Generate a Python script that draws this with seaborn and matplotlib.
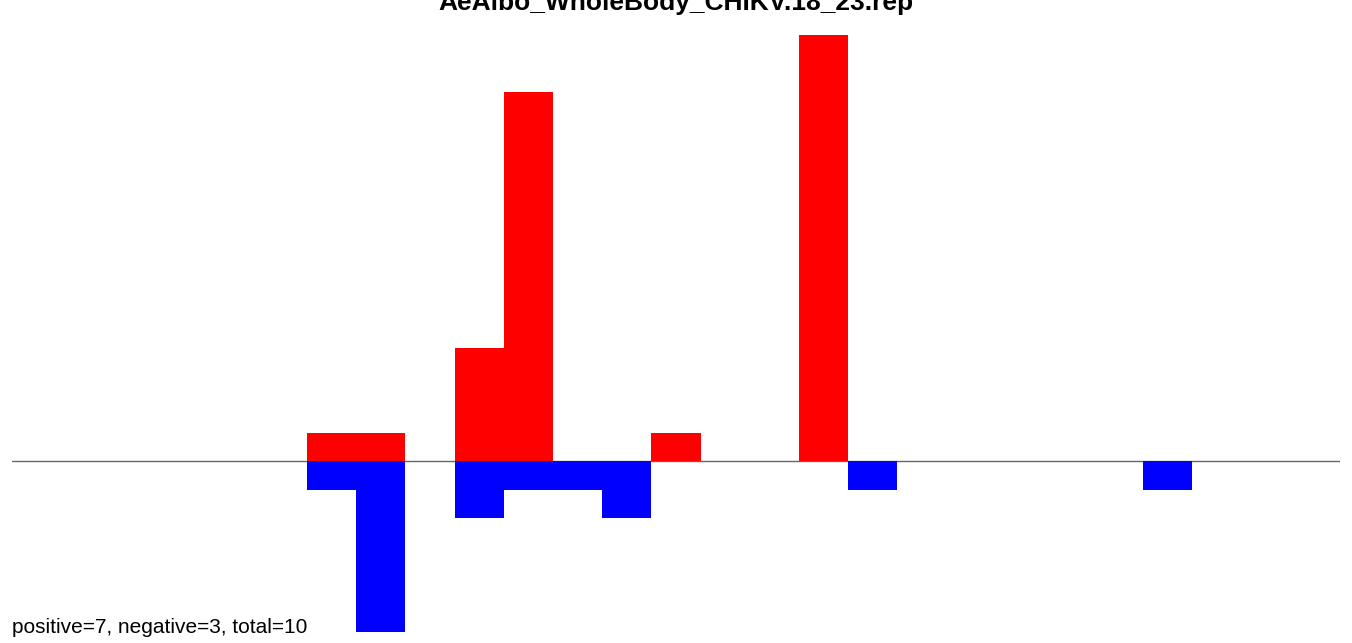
import matplotlib
matplotlib.use('Agg')
import matplotlib.pyplot as plt
import seaborn as sns
import pandas as pd

TITLE = 'AeAlbo_WholeBody_CHIKV.18_23.rep'
bins = list(range(27))
positive = [0, 0, 0, 0, 0, 0, 1, 1, 0, 4, 13, 0, 0, 1, 0, 0, 15, 0, 0, 0, 0, 0, 0, 0, 0, 0, 0]
negative = [0, 0, 0, 0, 0, 0, -1, -6, 0, -2, -1, -1, -2, 0, 0, 0, 0, -1, 0, 0, 0, 0, 0, -1, 0, 0, 0]
summary = 'positive=7, negative=3, total=10'

sns.set_style('white')
plt.rcParams['font.family'] = ['Liberation Sans', 'DejaVu Sans']
plt.rcParams['text.color'] = 'black'

df = pd.DataFrame({'bin': bins, 'pos': positive, 'neg': negative})

fig = plt.figure(figsize=(13.52, 6.43), dpi=100)
ax = fig.add_axes([12 / 1352, 11 / 643, 1328 / 1352, 597 / 643])

sns.barplot(data=df, x='bin', y='pos', color='#ff0000', saturation=1, width=1.0,
            linewidth=0, ax=ax)
sns.barplot(data=df, x='bin', y='neg', color='#0000ff', saturation=1, width=1.0,
            linewidth=0, ax=ax)
ax.axhline(0, color='#666666', lw=1, zorder=0)

ax.set_xlim(-0.5, len(bins) - 0.5)
ax.set_ylim(-6, 15)
ax.axis('off')

fig.text(0.5, 1 - 10 / 643, TITLE, ha='center', va='baseline', fontsize=19,
         fontweight='bold', color='black')
fig.text(12 / 1352, 10 / 643, summary, ha='left', va='baseline', fontsize=15, color='black')

fig.savefig('out.png', dpi=100)
